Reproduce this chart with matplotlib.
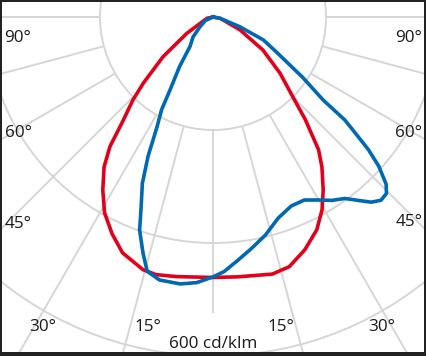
import numpy as np
import matplotlib
matplotlib.use("Agg")
import matplotlib.pyplot as plt
from matplotlib.patches import Circle, Rectangle

# luminous intensity, C0-C180 plane, signed angle from nadir (negative = left half)
RED_ANGLES = [-90, -78, -58, -51.5, -46.5, -44, -41, -38.5, -36, -32.5, -29, -25, -21,
              -15.5, -12.5, -8, 0, 5.5, 13, 17, 21.5, 26, 29.5, 32.5, 36, 38.5, 42,
              44.5, 50, 56.5, 64.5, 67.5, 79.5, 90]
RED_CD = [0, 11, 55, 113, 170, 204, 242, 293, 328, 363, 396, 423, 447,
          464, 467, 464, 461, 462, 467, 462, 443, 419, 392, 363, 328, 300, 244,
          206, 155, 106, 53, 33, 13, 0]

BLUE_ANGLES = [-90, -65, -53, -45, -38, -34, -30.5, -29, -27, -25, -23, -20.5, -19, -16.5,
               -14.5, -11.5, -7, -3.5, 0, 2.5, 6, 9.5, 13.5, 18, 22.5, 26.5, 30, 33, 36,
               38.5, 40.5, 42.5, 44.5, 46, 48, 49.5, 50.5, 52, 53, 56, 61, 65.5, 70, 79.5, 90]
BLUE_CD = [0, 15, 29, 50, 66, 106, 150, 188, 218, 272, 320, 364, 399, 436,
           465, 475, 476, 471, 460, 451, 432, 415, 397, 374, 362, 362, 374, 387, 397,
           415, 431, 440, 438, 426, 395, 362, 333, 296, 244, 192, 129, 98, 51, 13, 0]

RING_VALUES = [200, 400, 600]
SPOKE_ANGLES = [-90, -75, -60, -45, -30, -15, 0, 15, 30, 45, 60, 75, 90]
ANGLE_LABELS = ["90°", "60°", "45°", "30°", "15°"]
UNIT_LABEL = "600 cd/klm"

RED = "#e2001a"
BLUE = "#0069b4"
GRID = "#d6d6d6"

W, H = 427, 356
CX, CY = 213, 17          # pole position in pixels
K = 200 / 113             # cd/klm per pixel


def px(x, y):
    return (x - CX) * K, (CY - y) * K


def to_xy(angles, cd):
    g = np.radians(angles)
    cd = np.asarray(cd, dtype=float)
    return cd * np.sin(g), -cd * np.cos(g)


fig = plt.figure(figsize=(W / 100, H / 100), dpi=100)
ax = fig.add_axes([0, 0, 1, 1])
ax.set_xlim(-CX * K, (W - CX) * K)
ax.set_ylim(-(H - CY) * K, CY * K)
ax.axis("off")

for r in RING_VALUES:
    ax.add_patch(Circle((0, 0), r, fill=False, ec=GRID, lw=1.4, zorder=1))
for a in SPOKE_ANGLES:
    g = np.radians(a)
    ax.plot([200 * np.sin(g), 900 * np.sin(g)], [-200 * np.cos(g), -900 * np.cos(g)],
            color=GRID, lw=1.4, zorder=1, solid_capstyle="butt")

# white box behind the unit label
x0, y0 = px(168, 313)
x1, y1 = px(258, 356)
ax.add_patch(Rectangle((x0, y1), x1 - x0, y0 - y1, fc="white", ec="none", zorder=2))

rx, ry = to_xy(RED_ANGLES, RED_CD)
ax.plot(rx, ry, color=RED, lw=2.6, zorder=3, solid_joinstyle="round")
bx, by = to_xy(BLUE_ANGLES, BLUE_CD)
ax.plot(bx, by, color=BLUE, lw=2.6, zorder=4, solid_joinstyle="round")

font = dict(family="Open Sans", fontsize=12.3, color="#1a1a1a", zorder=5)
label_pos = {
    "90°": [(18, 41.5), (409, 41.5)],
    "60°": [(18, 137), (409, 137)],
    "45°": [(18, 228), (409, 226)],
    "30°": [(43, 331), (382, 331)],
    "15°": [(148, 331), (281, 331)],
}
for lab in ANGLE_LABELS:
    for (lx, ly) in label_pos[lab]:
        tx, ty = px(lx, ly)
        ax.text(tx, ty, lab, ha="center", va="baseline", **font)
tx, ty = px(213, 348)
ax.text(tx, ty, UNIT_LABEL, ha="center", va="baseline", **font)

# dark frame of the screenshot
frame = "#222222"
for (fx, fy, fw, fh) in [(0, 0, 2, H), (W - 3, 0, 3, H), (0, 0, W, 4), (0, H - 2, W, 2)]:
    fig.add_artist(Rectangle((fx / W, fy / H), fw / W, fh / H, transform=fig.transFigure,
                             fc=frame, ec="none", zorder=10))

fig.savefig("out.png", dpi=100)
